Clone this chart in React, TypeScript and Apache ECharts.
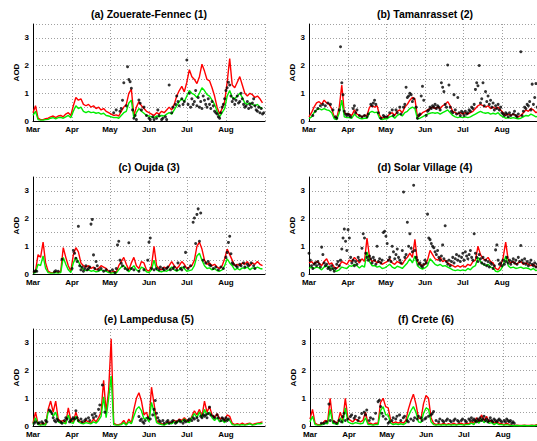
import React, { useEffect, useRef } from "react";
import * as echarts from "echarts";

const MONTHS = ["Mar", "Apr", "May", "Jun", "Jul", "Aug"];
const MONTH_DAYS = [31, 30, 31, 30, 31, 31];
const STEP = 2; // model values every 2 days
const Y_TICKS = [0, 1, 2, 3];
const TITLES = [
  "(a) Zouerate-Fennec (1)",
  "(b) Tamanrasset (2)",
  "(c) Oujda (3)",
  "(d) Solar Village (4)",
  "(e) Lampedusa (5)",
  "(f) Crete (6)",
];

// ---- (a) Zouerate-Fennec ----
const RED_A = [
  0.3, 0.55, 0.1, 0.05, 0.05, 0.08, 0.1, 0.15, 0.18, 0.12, 0.18, 0.2, 0.15, 0.25, 0.3, 0.2,
  0.55, 0.85, 0.75, 0.8, 0.6, 0.55, 0.6, 0.5, 0.55, 0.45, 0.5, 0.4, 0.45, 0.35, 0.3,
  0.25, 0.2, 0.22, 0.18, 0.35, 0.5, 0.6, 1.0, 1.15, 0.2, 0.5, 0.7, 0.55, 0.45, 0.35,
  0.3, 0.25, 0.2, 0.3, 0.25, 0.35, 0.3, 0.4, 0.5, 0.4, 0.6, 0.9, 1.1, 1.25, 1.05,
  1.4, 1.85, 1.6, 1.5, 1.35, 1.6, 2.05, 1.8, 1.5, 1.45, 1.2, 0.9, 0.5, 0.25, 0.45, 0.7,
  1.4, 2.25, 1.3, 1.2, 1.4, 1.6, 1.3, 1.0, 0.9, 1.0, 0.95, 0.85, 0.9, 0.8, 0.65,
];
const GREEN_A = [
  0.2, 0.35, 0.05, 0.03, 0.03, 0.05, 0.06, 0.1, 0.12, 0.08, 0.12, 0.13, 0.1, 0.15, 0.2, 0.12,
  0.35, 0.55, 0.45, 0.5, 0.35, 0.3, 0.35, 0.3, 0.32, 0.28, 0.3, 0.25, 0.28, 0.2, 0.18,
  0.15, 0.12, 0.13, 0.1, 0.2, 0.3, 0.35, 0.65, 0.75, 0.1, 0.3, 0.45, 0.35, 0.28, 0.2,
  0.18, 0.15, 0.12, 0.18, 0.15, 0.2, 0.18, 0.25, 0.3, 0.25, 0.4, 0.55, 0.7, 0.8, 0.7,
  0.9, 1.1, 1.0, 0.95, 0.85, 1.0, 1.2, 1.1, 0.95, 0.9, 0.75, 0.6, 0.35, 0.15, 0.3, 0.45,
  0.9, 1.1, 0.85, 0.8, 0.9, 1.0, 0.85, 0.65, 0.6, 0.65, 0.6, 0.55, 0.6, 0.5, 0.45,
];
const DOTS_A = [
  [64, 0.3], [66, 0.4], [69, 0.35], [70, 0.45], [71, 0.75], [72, 1.38], [74, 0.55], [75, 1.96], [76, 1.5], [77, 1.42],
  [78, 1.18], [79, 0.4], [80, 0.1], [81, 0.2], [82, 0.05], [84, 0.76], [85, 0.64], [86, 0.4], [88, 0.5], [90, 0.2],
  [92, 0.1], [93, 0.05], [95, 0.15], [96, 0.05], [98, 0.1], [99, 0.4], [100, 0.2], [102, 0.05], [103, 0.1], [105, 0.15],
  [106, 0.05], [108, 1.3], [110, 0.3], [111, 0.5], [113, 0.6], [114, 0.9], [115, 0.7], [116, 0.55], [118, 0.8], [119, 0.6],
  [120, 0.7], [122, 2.2], [123, 0.6], [124, 1.0], [125, 0.5], [126, 0.8], [127, 0.6], [128, 0.7], [129, 1.1], [130, 0.55],
  [131, 0.85], [132, 0.5], [133, 0.7], [134, 0.45], [135, 0.9], [136, 0.75], [137, 0.6], [138, 0.5], [139, 0.8], [140, 0.6],
  [141, 0.45], [142, 0.7], [143, 0.55], [144, 0.35], [145, 0.3], [146, 0.25], [147, 0.15], [148, 0.1], [149, 0.3], [150, 0.5],
  [151, 0.6], [152, 0.8], [153, 1.1], [154, 1.2], [155, 1.4], [156, 1.3], [157, 0.9], [158, 0.7], [159, 0.8], [160, 0.6],
  [161, 0.75], [162, 0.9], [163, 0.65], [164, 0.7], [165, 1.0], [166, 0.8], [167, 0.6], [168, 0.5], [169, 0.55], [170, 0.7],
  [171, 0.45], [172, 0.6], [173, 0.5], [174, 0.65], [175, 0.8], [176, 0.55], [177, 0.4], [178, 0.35], [179, 0.5], [180, 0.3],
  [181, 0.45], [182, 0.25], [183, 0.3],
];

// ---- (b) Tamanrasset ----
const RED_B = [
  0.15, 0.3, 0.5, 0.65, 0.7, 0.6, 0.75, 0.65, 0.6, 0.45, 0.15, 0.1, 0.5, 1.3, 0.3, 0.25,
  0.25, 0.2, 0.4, 0.25, 0.2, 0.15, 0.2, 0.2, 0.5, 0.55, 0.5, 0.55, 0.2, 0.1, 0.15,
  0.15, 0.25, 0.3, 0.2, 0.35, 0.4, 0.3, 0.5, 0.6, 0.75, 0.85, 0.8, 0.15, 0.2, 0.3,
  0.35, 0.4, 0.45, 0.5, 0.45, 0.5, 0.45, 0.55, 0.6, 0.7, 0.55, 0.35, 0.3, 0.25, 0.3,
  0.25, 0.3, 0.25, 0.3, 0.35, 0.45, 0.55, 0.6, 0.55, 0.5, 0.55, 0.45, 0.5, 0.45, 0.5, 0.4,
  0.3, 0.2, 0.25, 0.2, 0.25, 0.2, 0.15, 0.2, 0.3, 0.4, 0.35, 0.45, 0.4, 0.3, 0.35,
];
const GREEN_B = [
  0.08, 0.15, 0.3, 0.4, 0.45, 0.4, 0.45, 0.4, 0.38, 0.3, 0.08, 0.05, 0.3, 0.75, 0.15, 0.12,
  0.12, 0.1, 0.25, 0.15, 0.1, 0.08, 0.1, 0.1, 0.3, 0.35, 0.3, 0.32, 0.1, 0.05, 0.08,
  0.08, 0.15, 0.18, 0.1, 0.2, 0.25, 0.18, 0.3, 0.35, 0.45, 0.5, 0.45, 0.08, 0.1, 0.15,
  0.2, 0.25, 0.28, 0.3, 0.28, 0.3, 0.25, 0.3, 0.35, 0.4, 0.3, 0.2, 0.15, 0.12, 0.15,
  0.12, 0.15, 0.12, 0.15, 0.2, 0.25, 0.3, 0.35, 0.3, 0.28, 0.3, 0.25, 0.28, 0.25, 0.3, 0.2,
  0.15, 0.1, 0.12, 0.1, 0.12, 0.1, 0.08, 0.1, 0.15, 0.2, 0.18, 0.25, 0.2, 0.15, 0.18,
];
const DOTS_B = [
  [3, 0.2], [5, 0.35], [7, 0.45], [9, 0.55], [11, 0.6], [13, 0.55], [15, 0.65], [17, 0.6], [19, 0.4], [21, 0.15],
  [22, 0.1], [24, 0.4], [25, 2.68], [26, 1.38], [27, 0.95], [28, 0.35], [29, 0.25], [30, 0.2], [31, 0.25], [32, 0.2],
  [33, 0.15], [35, 0.45], [36, 0.55], [37, 0.3], [38, 0.4], [40, 0.2], [42, 0.15], [44, 0.2], [46, 0.15], [47, 0.25],
  [49, 0.6], [50, 0.55], [51, 0.65], [52, 0.75], [53, 0.6], [55, 0.3], [57, 0.1], [59, 0.2], [60, 0.15], [62, 0.15],
  [64, 0.3], [66, 0.4], [67, 0.2], [69, 0.4], [70, 0.3], [72, 0.5], [73, 0.25], [75, 0.5], [76, 0.6], [77, 1.22],
  [78, 0.85], [79, 0.9], [80, 1.0], [81, 0.95], [82, 0.7], [83, 0.8], [85, 0.5], [86, 0.1], [87, 0.2], [88, 0.25],
  [89, 0.9], [90, 1.25], [91, 0.75], [93, 0.2], [94, 0.35], [95, 0.4], [96, 0.5], [97, 0.45], [98, 0.55], [99, 0.5],
  [100, 0.6], [101, 0.45], [102, 0.55], [103, 0.5], [104, 0.4], [105, 1.38], [106, 1.22], [107, 1.06], [108, 0.6], [109, 0.5],
  [110, 2.02], [111, 1.3], [112, 0.5], [113, 0.35], [114, 0.3], [115, 0.95], [116, 0.4], [117, 0.25], [118, 0.85], [119, 0.3],
  [120, 0.2], [121, 0.35], [122, 0.3], [123, 0.2], [124, 0.35], [125, 0.25], [126, 0.3], [127, 0.4], [128, 0.35], [129, 0.5],
  [130, 0.45], [131, 0.6], [132, 1.14], [133, 1.38], [134, 1.27], [135, 2.0], [136, 0.65], [137, 0.8], [138, 1.38], [139, 0.55],
  [140, 1.06], [141, 0.7], [142, 0.9], [143, 0.6], [144, 0.75], [145, 0.5], [146, 0.65], [147, 0.4], [148, 0.55], [149, 0.45],
  [150, 0.6], [151, 0.4], [152, 0.5], [153, 0.3], [154, 0.25], [155, 0.2], [156, 0.3], [157, 0.25], [158, 0.15], [159, 0.3],
  [160, 0.2], [162, 0.25], [163, 0.35], [164, 0.2], [165, 0.15], [166, 0.25], [168, 2.5], [169, 0.2], [170, 0.35], [171, 0.5],
  [172, 0.45], [173, 0.6], [174, 0.55], [175, 0.7], [176, 0.4], [177, 1.33], [178, 0.6], [179, 0.85], [180, 1.35], [181, 0.5],
  [182, 0.55], [183, 0.4],
];

// ---- (c) Oujda ----
const RED_C = [
  0.05, 0.1, 0.7, 0.6, 1.15, 0.4, 0.1, 0.05, 0.05, 0.08, 0.05, 0.1, 0.95, 0.6, 0.3, 0.1,
  0.7, 0.95, 0.8, 0.4, 0.3, 0.25, 0.3, 0.2, 0.25, 0.15, 0.2, 0.3, 0.25, 0.2, 0.1,
  0.05, 0.1, 0.05, 0.3, 0.45, 0.6, 0.35, 0.15, 0.4, 0.6, 0.3, 0.2, 0.45, 0.4, 0.15,
  0.1, 0.3, 1.0, 0.3, 0.2, 0.15, 0.25, 0.2, 0.3, 0.45, 0.3, 0.2, 0.3, 0.45, 0.35,
  0.2, 0.25, 0.3, 0.5, 1.0, 1.15, 0.9, 0.5, 0.35, 0.4, 0.3, 0.35, 0.25, 0.2, 0.3, 0.55,
  0.9, 0.7, 0.5, 0.3, 0.35, 0.3, 0.4, 0.35, 0.45, 0.3, 0.4, 0.35, 0.45, 0.35, 0.3,
];
const GREEN_C = [
  0.03, 0.05, 0.35, 0.3, 0.65, 0.2, 0.05, 0.03, 0.03, 0.05, 0.03, 0.05, 0.6, 0.35, 0.15, 0.05,
  0.4, 0.6, 0.45, 0.25, 0.15, 0.12, 0.15, 0.1, 0.12, 0.08, 0.1, 0.15, 0.12, 0.1, 0.05,
  0.03, 0.05, 0.03, 0.15, 0.25, 0.3, 0.2, 0.08, 0.2, 0.3, 0.15, 0.1, 0.25, 0.2, 0.08,
  0.05, 0.15, 0.5, 0.15, 0.1, 0.08, 0.12, 0.1, 0.15, 0.25, 0.15, 0.1, 0.15, 0.25, 0.2,
  0.1, 0.12, 0.15, 0.3, 0.65, 0.75, 0.5, 0.3, 0.2, 0.22, 0.15, 0.2, 0.12, 0.1, 0.15, 0.3,
  0.55, 0.4, 0.3, 0.15, 0.2, 0.15, 0.22, 0.2, 0.25, 0.15, 0.22, 0.2, 0.25, 0.2, 0.18,
];
const DOTS_C = [
  [1, 0.08], [2, 0.12], [3, 0.1], [17, 0.08], [18, 0.12], [20, 0.1], [23, 0.53], [31, 0.2], [32, 0.85], [33, 0.75],
  [34, 0.57], [35, 0.45], [36, 1.72], [37, 0.3], [38, 0.15], [39, 0.25], [40, 0.1], [41, 0.2], [42, 0.3], [43, 0.15],
  [44, 0.2], [45, 0.25], [46, 1.8], [47, 1.97], [48, 0.69], [49, 0.2], [50, 0.45], [51, 0.3], [52, 0.15], [54, 0.2],
  [56, 0.1], [58, 0.15], [61, 0.1], [63, 0.15], [65, 0.05], [66, 0.2], [67, 1.05], [68, 1.18], [69, 0.5], [70, 0.39],
  [71, 0.3], [73, 0.2], [75, 0.15], [76, 1.13], [78, 0.2], [80, 0.15], [84, 0.1], [88, 0.15], [91, 0.5], [92, 1.15],
  [93, 1.3], [94, 0.2], [96, 0.15], [98, 0.2], [100, 0.15], [101, 0.25], [103, 0.2], [104, 0.15], [106, 0.2], [107, 0.25],
  [109, 0.15], [111, 0.2], [112, 0.25], [114, 0.15], [115, 0.4], [117, 0.2], [118, 0.15], [120, 0.25], [121, 0.78], [123, 0.2],
  [125, 0.3], [127, 1.87], [128, 2.02], [129, 1.1], [130, 2.15], [131, 2.35], [132, 1.18], [133, 2.2], [135, 0.5], [137, 0.4],
  [139, 0.45], [140, 0.33], [141, 0.3], [143, 0.2], [145, 0.25], [147, 0.15], [149, 0.25], [151, 0.2], [153, 0.6], [154, 0.78],
  [155, 1.14], [156, 1.36], [157, 0.73], [158, 0.4], [159, 0.35], [161, 0.3], [162, 0.25], [164, 0.35], [165, 0.3], [167, 0.4],
  [168, 0.25], [170, 0.35], [171, 0.3], [173, 0.4], [175, 0.3], [176, 0.2],
];

// ---- (d) Solar Village ----
const RED_D = [
  0.4, 0.45, 0.35, 0.45, 0.4, 0.3, 0.45, 0.55, 0.35, 0.4, 0.25, 0.2, 0.3, 0.45, 0.4, 0.35,
  0.5, 0.45, 0.6, 0.5, 0.4, 0.55, 0.45, 1.3, 0.6, 0.45, 0.5, 0.4, 0.45, 0.35, 0.4,
  0.45, 0.55, 0.4, 0.35, 0.45, 0.4, 0.35, 0.5, 0.6, 0.75, 0.6, 1.25, 0.45, 0.35, 0.3,
  0.35, 0.5, 0.85, 0.7, 0.55, 0.5, 0.6, 0.45, 0.5, 0.4, 0.35, 0.3, 0.25, 0.3, 0.25,
  0.3, 0.25, 0.35, 0.3, 0.45, 0.5, 1.0, 0.7, 0.55, 0.5, 0.6, 0.45, 0.4, 0.2, 0.15, 0.3,
  0.6, 1.15, 0.5, 0.4, 0.45, 0.35, 0.4, 0.45, 0.35, 0.4, 0.35, 0.3, 0.35, 0.25, 0.3,
];
const GREEN_D = [
  0.2, 0.25, 0.2, 0.25, 0.22, 0.15, 0.25, 0.3, 0.2, 0.22, 0.12, 0.1, 0.15, 0.25, 0.22, 0.2,
  0.3, 0.28, 0.35, 0.3, 0.22, 0.3, 0.25, 0.8, 0.45, 0.3, 0.3, 0.25, 0.28, 0.2, 0.22,
  0.28, 0.35, 0.25, 0.2, 0.28, 0.25, 0.2, 0.3, 0.4, 0.55, 0.4, 0.65, 0.3, 0.22, 0.18,
  0.22, 0.3, 0.55, 0.45, 0.35, 0.3, 0.35, 0.28, 0.3, 0.25, 0.2, 0.15, 0.12, 0.15, 0.12,
  0.15, 0.12, 0.2, 0.15, 0.25, 0.3, 0.6, 0.45, 0.35, 0.3, 0.35, 0.25, 0.22, 0.1, 0.08, 0.15,
  0.3, 0.65, 0.3, 0.22, 0.25, 0.2, 0.22, 0.25, 0.2, 0.22, 0.2, 0.15, 0.2, 0.12, 0.15,
];
const DOTS_D = [
  [0, 0.75], [1, 0.5], [2, 0.3], [3, 0.2], [4, 0.35], [5, 0.4], [6, 0.3], [7, 0.45], [8, 0.35], [9, 0.25],
  [10, 0.97], [11, 0.7], [12, 0.4], [13, 0.3], [14, 0.35], [15, 0.2], [16, 0.25], [17, 0.15], [18, 0.3], [19, 0.2],
  [20, 0.1], [21, 0.2], [22, 0.35], [23, 0.45], [24, 0.3], [25, 0.5], [26, 0.9], [27, 1.3], [28, 1.62], [29, 1.18],
  [30, 0.85], [31, 1.6], [32, 1.3], [33, 0.6], [34, 0.4], [35, 0.5], [36, 0.3], [37, 0.45], [38, 0.35], [39, 0.6],
  [40, 0.5], [42, 0.93], [43, 1.45], [44, 1.3], [45, 0.75], [46, 0.6], [47, 0.5], [48, 0.65], [49, 0.55], [50, 0.4],
  [51, 0.6], [52, 0.5], [53, 0.35], [54, 1.0], [55, 0.45], [56, 0.55], [57, 0.4], [58, 0.5], [59, 1.5], [60, 1.54],
  [61, 1.36], [62, 1.1], [63, 0.5], [64, 0.6], [65, 0.45], [66, 1.0], [67, 0.8], [68, 0.55], [69, 0.7], [70, 0.9],
  [71, 0.6], [72, 0.5], [73, 0.4], [74, 0.85], [75, 2.96], [76, 0.6], [77, 0.7], [78, 1.87], [79, 1.0], [80, 1.45],
  [81, 0.93], [82, 0.8], [83, 3.2], [84, 0.85], [85, 0.6], [86, 0.5], [87, 0.35], [88, 0.4], [89, 0.3], [90, 0.25],
  [91, 0.35], [92, 0.5], [93, 0.4], [94, 2.16], [95, 1.3], [96, 1.24], [97, 1.1], [98, 1.0], [99, 0.95], [100, 0.8],
  [101, 0.7], [102, 0.85], [103, 0.6], [104, 0.5], [105, 0.65], [106, 1.05], [107, 0.55], [108, 1.74], [109, 0.45], [110, 0.35],
  [111, 0.5], [112, 0.3], [113, 0.45], [114, 0.6], [115, 0.4], [116, 0.55], [117, 0.7], [118, 0.5], [119, 0.65], [120, 0.45],
  [121, 0.6], [122, 0.75], [123, 0.5], [124, 0.8], [125, 0.65], [126, 0.55], [127, 0.7], [128, 0.85], [129, 0.6], [130, 0.5],
  [131, 1.45], [132, 0.75], [133, 0.6], [134, 0.45], [135, 0.7], [136, 0.55], [137, 0.4], [138, 0.6], [139, 0.35], [140, 0.5],
  [141, 0.3], [142, 0.45], [143, 0.25], [144, 0.4], [145, 0.35], [146, 0.2], [147, 0.3], [148, 0.87], [149, 1.05], [150, 0.5],
  [151, 0.35], [152, 0.4], [153, 0.3], [154, 0.5], [155, 0.35], [156, 0.45], [157, 0.6], [158, 0.4], [159, 0.5], [160, 0.35],
  [161, 0.45], [162, 0.55], [163, 0.4], [164, 0.5], [165, 0.35], [166, 0.6], [167, 0.45], [168, 1.03], [169, 0.5], [170, 0.4],
  [171, 0.55], [172, 0.35], [173, 0.45], [174, 0.3], [175, 0.4], [176, 0.5], [177, 0.35], [178, 0.3], [179, 0.4], [180, 0.25],
  [181, 0.35], [182, 0.2], [183, 0.3],
];

// ---- (e) Lampedusa ----
const RED_E = [
  0.1, 0.5, 0.08, 0.05, 0.1, 0.05, 0.6, 0.9, 0.5, 0.9, 0.25, 0.15, 0.2, 0.1, 0.65, 0.2,
  0.15, 0.5, 0.2, 0.15, 0.1, 0.2, 0.15, 0.1, 0.25, 0.15, 0.3, 0.5, 1.65, 0.5, 1.3,
  3.15, 0.1, 0.05, 0.05, 0.08, 0.2, 0.05, 0.25, 0.1, 0.6, 1.0, 1.2, 0.9, 0.4, 0.5,
  0.2, 1.4, 0.8, 0.2, 0.1, 0.08, 0.05, 0.1, 0.15, 0.1, 0.2, 0.15, 0.25, 0.2, 0.3,
  0.2, 0.15, 0.35, 0.55, 0.4, 0.6, 0.35, 0.9, 0.5, 0.7, 0.4, 0.3, 0.45, 0.25, 0.3, 0.2,
  0.4, 0.35, 0.1, 0.05, 0.08, 0.05, 0.1, 0.05, 0.08, 0.1, 0.05, 0.08, 0.1, 0.12, 0.15,
];
const GREEN_E = [
  0.05, 0.3, 0.05, 0.03, 0.05, 0.03, 0.5, 0.55, 0.35, 0.5, 0.15, 0.1, 0.12, 0.08, 0.4, 0.12,
  0.1, 0.35, 0.15, 0.1, 0.08, 0.12, 0.1, 0.08, 0.15, 0.1, 0.2, 0.35, 1.05, 0.3, 1.0,
  1.8, 0.05, 0.03, 0.03, 0.05, 0.12, 0.03, 0.15, 0.08, 0.35, 0.6, 0.7, 0.55, 0.25, 0.3,
  0.15, 0.85, 0.5, 0.12, 0.08, 0.05, 0.03, 0.08, 0.1, 0.08, 0.15, 0.1, 0.2, 0.15, 0.25,
  0.15, 0.12, 0.3, 0.45, 0.3, 0.5, 0.3, 0.6, 0.4, 0.5, 0.3, 0.2, 0.3, 0.15, 0.2, 0.12,
  0.25, 0.2, 0.05, 0.03, 0.05, 0.03, 0.05, 0.03, 0.05, 0.08, 0.03, 0.05, 0.08, 0.08, 0.1,
];
const DOTS_E = [
  [1, 0.1], [2, 0.15], [4, 0.1], [5, 0.12], [7, 0.15], [8, 0.1], [10, 0.2], [11, 0.15], [13, 0.58], [14, 0.52],
  [15, 0.45], [16, 0.3], [17, 0.2], [18, 0.15], [19, 0.25], [20, 0.2], [22, 0.15], [23, 0.1], [25, 0.2], [26, 0.3],
  [27, 0.25], [29, 0.15], [30, 0.2], [31, 0.25], [32, 0.3], [33, 0.25], [34, 0.55], [35, 0.3], [36, 0.2], [38, 0.25],
  [39, 0.15], [41, 0.2], [42, 0.25], [44, 0.3], [45, 0.2], [47, 0.4], [48, 0.3], [49, 0.45], [50, 0.35], [52, 0.6],
  [53, 0.76], [55, 1.48], [57, 0.5], [84, 0.34], [85, 0.2], [86, 0.25], [87, 0.15], [88, 0.1], [89, 0.2], [91, 0.3],
  [93, 0.25], [95, 0.4], [96, 0.6], [97, 0.92], [98, 0.46], [99, 0.3], [100, 0.2], [101, 0.15], [103, 0.2], [104, 0.1],
  [106, 0.15], [107, 0.2], [108, 0.1], [110, 0.15], [111, 0.2], [113, 0.1], [114, 0.15], [116, 0.2], [117, 0.15], [119, 0.1],
  [120, 0.2], [121, 0.15], [123, 0.2], [124, 0.25], [126, 0.2], [127, 0.3], [128, 0.25], [130, 0.3], [131, 0.2], [133, 0.35],
  [134, 0.3], [135, 0.4], [136, 0.35], [137, 0.4], [138, 0.3], [139, 0.45], [140, 0.68], [141, 0.4], [143, 0.35], [144, 0.3],
  [146, 0.4], [147, 0.3], [149, 0.2], [150, 0.3], [151, 0.25], [152, 0.2], [153, 0.3], [154, 0.2], [155, 0.25],
];

// ---- (f) Crete ----
const RED_F = [
  0.25, 0.6, 0.1, 0.05, 0.05, 0.1, 0.2, 0.15, 1.0, 0.2, 0.15, 0.1, 0.5, 0.2, 1.0, 0.3,
  0.2, 0.15, 0.25, 0.2, 0.15, 0.2, 0.5, 0.1, 0.1, 0.05, 0.1, 0.1, 0.85, 1.0, 0.7,
  0.65, 0.2, 0.1, 0.15, 0.1, 0.15, 0.1, 0.2, 0.6, 0.9, 1.15, 0.8, 0.3, 0.25, 0.8,
  1.1, 1.0, 0.3, 0.1, 0.05, 0.08, 0.05, 0.1, 0.05, 0.08, 0.05, 0.1, 0.05, 0.08, 0.1,
  0.05, 0.1, 0.08, 0.15, 0.1, 0.3, 0.15, 0.4, 0.2, 0.35, 0.15, 0.2, 0.1, 0.15, 0.1, 0.08,
  0.05, 0.1, 0.05, 0.03, 0.02, 0.03, 0.02, 0.02, 0.03, 0.02, 0.02, 0.03, 0.02, 0.05, 0.03,
];
const GREEN_F = [
  0.15, 0.35, 0.05, 0.03, 0.03, 0.05, 0.1, 0.08, 0.6, 0.1, 0.08, 0.05, 0.3, 0.1, 0.65, 0.15,
  0.1, 0.08, 0.12, 0.1, 0.08, 0.1, 0.3, 0.05, 0.05, 0.03, 0.05, 0.05, 0.55, 0.7, 0.4,
  0.4, 0.1, 0.05, 0.08, 0.05, 0.08, 0.05, 0.1, 0.35, 0.55, 0.7, 0.5, 0.15, 0.12, 0.45,
  0.65, 0.6, 0.15, 0.05, 0.03, 0.05, 0.03, 0.05, 0.03, 0.05, 0.03, 0.05, 0.03, 0.05, 0.05,
  0.03, 0.05, 0.05, 0.1, 0.05, 0.2, 0.1, 0.25, 0.12, 0.2, 0.1, 0.12, 0.05, 0.1, 0.05, 0.05,
  0.03, 0.05, 0.03, 0.02, 0.01, 0.02, 0.01, 0.01, 0.02, 0.01, 0.01, 0.02, 0.01, 0.03, 0.02,
];
const DOTS_F = [
  [9, 0.1], [11, 0.1], [13, 0.15], [15, 0.79], [16, 0.2], [19, 0.15], [21, 0.1], [23, 0.2], [25, 0.15], [26, 0.34],
  [27, 0.46], [28, 0.2], [30, 0.25], [32, 0.34], [33, 0.4], [35, 0.28], [36, 0.35], [38, 0.2], [39, 0.3], [41, 0.45],
  [43, 0.5], [44, 0.4], [45, 0.58], [47, 0.2], [48, 0.3], [50, 0.25], [52, 0.46], [54, 0.88], [55, 0.93], [56, 0.7],
  [57, 0.46], [58, 0.35], [60, 0.25], [62, 0.1], [63, 0.15], [65, 0.2], [66, 0.3], [68, 0.25], [69, 0.35], [71, 0.4],
  [72, 0.2], [74, 0.3], [75, 0.35], [77, 0.2], [78, 0.15], [80, 0.25], [82, 0.2], [83, 0.3], [85, 0.25], [86, 0.35],
  [88, 0.3], [89, 0.2], [91, 0.25], [92, 0.3], [94, 0.35], [96, 0.4], [97, 0.45], [98, 0.52], [100, 0.2], [102, 0.15],
  [103, 0.25], [105, 0.2], [106, 0.15], [108, 0.2], [109, 0.25], [111, 0.2], [112, 0.15], [114, 0.2], [115, 0.25], [117, 0.2],
  [118, 0.15], [120, 0.2], [121, 0.25], [123, 0.2], [124, 0.15], [126, 0.25], [127, 0.2], [128, 0.3], [129, 0.2], [130, 0.25],
  [131, 0.2], [132, 0.15], [133, 0.25], [134, 0.2], [135, 0.3], [136, 0.2], [137, 0.25], [138, 0.35], [139, 0.2], [140, 0.25],
  [141, 0.15], [142, 0.2], [143, 0.3], [144, 0.2], [145, 0.15], [146, 0.25], [147, 0.2], [148, 0.15], [149, 0.2], [150, 0.25],
  [151, 0.2], [152, 0.15], [154, 0.2], [155, 0.15], [156, 0.25], [157, 0.2], [158, 0.15], [159, 0.2], [160, 0.1], [161, 0.15],
  [162, 0.1],
];

const PANELS = [
  { red: RED_A, green: GREEN_A, dots: DOTS_A },
  { red: RED_B, green: GREEN_B, dots: DOTS_B },
  { red: RED_C, green: GREEN_C, dots: DOTS_C },
  { red: RED_D, green: GREEN_D, dots: DOTS_D },
  { red: RED_E, green: GREEN_E, dots: DOTS_E },
  { red: RED_F, green: GREEN_F, dots: DOTS_F },
];

// layout (px)
const GRID_POS = [
  { left: 33, top: 24 },
  { left: 309, top: 24 },
  { left: 33, top: 177 },
  { left: 309, top: 177 },
  { left: 33, top: 329 },
  { left: 310, top: 329 },
];
const GRID_W = 232;
const GRID_H = 97;
const FONT = '"Liberation Sans", Arial, Helvetica, sans-serif';

export default function App() {
  const ref = useRef<HTMLDivElement>(null);

  useEffect(() => {
    if (!ref.current) return;
    const chart = echarts.init(ref.current, null, { renderer: "svg" });

    const monthStarts: number[] = [0];
    MONTH_DAYS.forEach((d, i) => monthStarts.push(monthStarts[i] + d));
    const totalDays = monthStarts[monthStarts.length - 1];
    const categories = Array.from({ length: totalDays + 1 }, (_, i) => String(i));

    const grids: any[] = [];
    const xAxes: any[] = [];
    const yAxes: any[] = [];
    const series: any[] = [];
    const graphics: any[] = [];

    PANELS.forEach((p, k) => {
      const g = GRID_POS[k];
      grids.push({
        left: g.left,
        top: g.top,
        width: GRID_W,
        height: GRID_H,
        containLabel: false,
        outerBoundsMode: "none",
      });
      xAxes.push({
        type: "category",
        gridIndex: k,
        data: categories,
        boundaryGap: false,
        axisLine: { show: true, onZero: false, lineStyle: { color: "#000", width: 1 } },
        axisTick: { show: false },
        axisLabel: {
          interval: (idx: number) => monthStarts.indexOf(idx) >= 0 && idx < totalDays,
          formatter: (_v: string, idx: number) => {
            const m = monthStarts.indexOf(idx);
            return m >= 0 && m < MONTHS.length ? MONTHS[m] : "";
          },
          color: "#000",
          fontWeight: "bold",
          fontSize: 8,
          fontFamily: FONT,
          margin: 4,
          showMinLabel: true,
          showMaxLabel: true,
          hideOverlap: false,
        },
        splitLine: {
          show: true,
          interval: (idx: number) => monthStarts.indexOf(idx) > 0,
          lineStyle: { color: "#888", type: [1, 2], width: 0.8 },
        },
      });
      yAxes.push({
        type: "value",
        gridIndex: k,
        min: 0,
        max: 3.5,
        interval: 0.5,
        name: "AOD",
        nameLocation: "middle",
        nameGap: 13,
        nameTextStyle: { color: "#000", fontWeight: "bold", fontSize: 8, fontFamily: FONT },
        axisLine: { show: true, lineStyle: { color: "#000", width: 1 } },
        axisTick: { show: false },
        axisLabel: {
          formatter: (v: number) => (Y_TICKS.indexOf(v) >= 0 ? String(v) : ""),
          color: "#000",
          fontWeight: "bold",
          fontSize: 8,
          fontFamily: FONT,
          margin: 4,
        },
        splitLine: { show: true, lineStyle: { color: "#888", type: [1, 2], width: 0.8 } },
      });
      series.push({
        type: "line",
        xAxisIndex: k,
        yAxisIndex: k,
        data: p.red.map((v, i) => [i * STEP, v]),
        symbol: "none",
        lineStyle: { color: "#ff0000", width: 1.4 },
        z: 2,
      });
      series.push({
        type: "line",
        xAxisIndex: k,
        yAxisIndex: k,
        data: p.green.map((v, i) => [i * STEP, v]),
        symbol: "none",
        lineStyle: { color: "#00ee00", width: 1.4 },
        z: 3,
      });
      series.push({
        type: "scatter",
        xAxisIndex: k,
        yAxisIndex: k,
        data: p.dots,
        symbol: "circle",
        symbolSize: 3,
        itemStyle: { color: "#000" },
        z: 4,
      });
      graphics.push({
        type: "text",
        x: g.left + GRID_W / 2,
        y: g.top - 10,
        style: {
          text: TITLES[k],
          fill: "#000",
          fontSize: 10.5,
          fontWeight: "bold",
          fontFamily: FONT,
          align: "center",
          verticalAlign: "middle",
          textAlign: "center",
          textVerticalAlign: "middle",
        },
      });
    });

    chart.setOption({
      animation: false,
      backgroundColor: "#fff",
      textStyle: { fontFamily: FONT },
      grid: grids,
      xAxis: xAxes,
      yAxis: yAxes,
      series,
      graphic: graphics,
    });

    return () => chart.dispose();
  }, []);

  return (
    <div
      ref={ref}
      style={{ position: "fixed", left: 0, top: 0, width: 537, height: 441, background: "#fff" }}
    />
  );
}
